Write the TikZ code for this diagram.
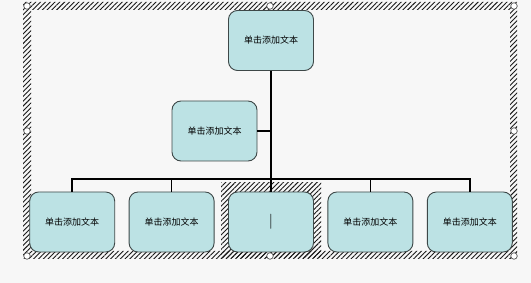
\documentclass[tikz,border=0pt]{standalone}
\usepackage{fontspec}
\newfontfamily\cjk{Noto Sans CJK SC}
\usetikzlibrary{positioning,patterns.meta}
\definecolor{boxfill}{HTML}{BCE2E4}
\definecolor{boxline}{HTML}{3E4848}
\definecolor{pagebg}{HTML}{F7F7F7}

\begin{document}
\begin{tikzpicture}[
    x=1pt, y=-1pt,
    orgbox/.style={draw=boxline, fill=boxfill, rounded corners=9pt,
                   minimum width=85pt, minimum height=60pt, inner sep=0pt,
                   line width=0.9pt, font=\cjk\fontsize{9}{10}\selectfont},
    conn/.style={line width=1.7pt, black},
    handle/.style={circle, draw=gray!70!black, fill=white, line width=0.7pt,
                   minimum size=6.5pt, inner sep=0pt},
    hatch/.style={pattern={Lines[angle=45, distance=3.4pt, line width=0.9pt]},
                  pattern color=black!90},
    node distance=13.5pt
  ]
    % page and selection frame
    \fill[pagebg] (0,0) rectangle (531,283);
    \fill[hatch, even odd rule] (23,2) rectangle (517,259)
                                (31,10) rectangle (510,251);
    \fill[hatch] (221,183) rectangle (321,258);

    % boxes
    \node[orgbox] (top) at (271,40.5) {单击添加文本};
    \node[orgbox] (assist) at (214.5,131) {单击添加文本};
    \node[orgbox, font=\fontsize{15}{15}\selectfont] (b3) at (271,222) {|};
    \node[orgbox, left=of b3]  (b2) {单击添加文本};
    \node[orgbox, left=of b2]  (b1) {单击添加文本};
    \node[orgbox, right=of b3] (b4) {单击添加文本};
    \node[orgbox, right=of b4] (b5) {单击添加文本};

    % connectors
    \coordinate (hub) at (top.south |- 0,179);
    \draw[conn] (top.south) -- (b3.north);
    \draw[conn] (assist.east) -- (assist.east -| top.south);
    \foreach \b in {b1,b2,b4,b5}
      \draw[conn] (\b.north) |- (hub);

    % sizing handles
    \foreach \x/\y/\n in {27/6/h1, 270/6/h2, 514/6/h3, 27/131/h4,
                          514/131/h5, 27/256/h6, 270/256/h7, 514/256/h8}
      \node[handle] (\n) at (\x,\y) {};
  \end{tikzpicture}
\end{document}
